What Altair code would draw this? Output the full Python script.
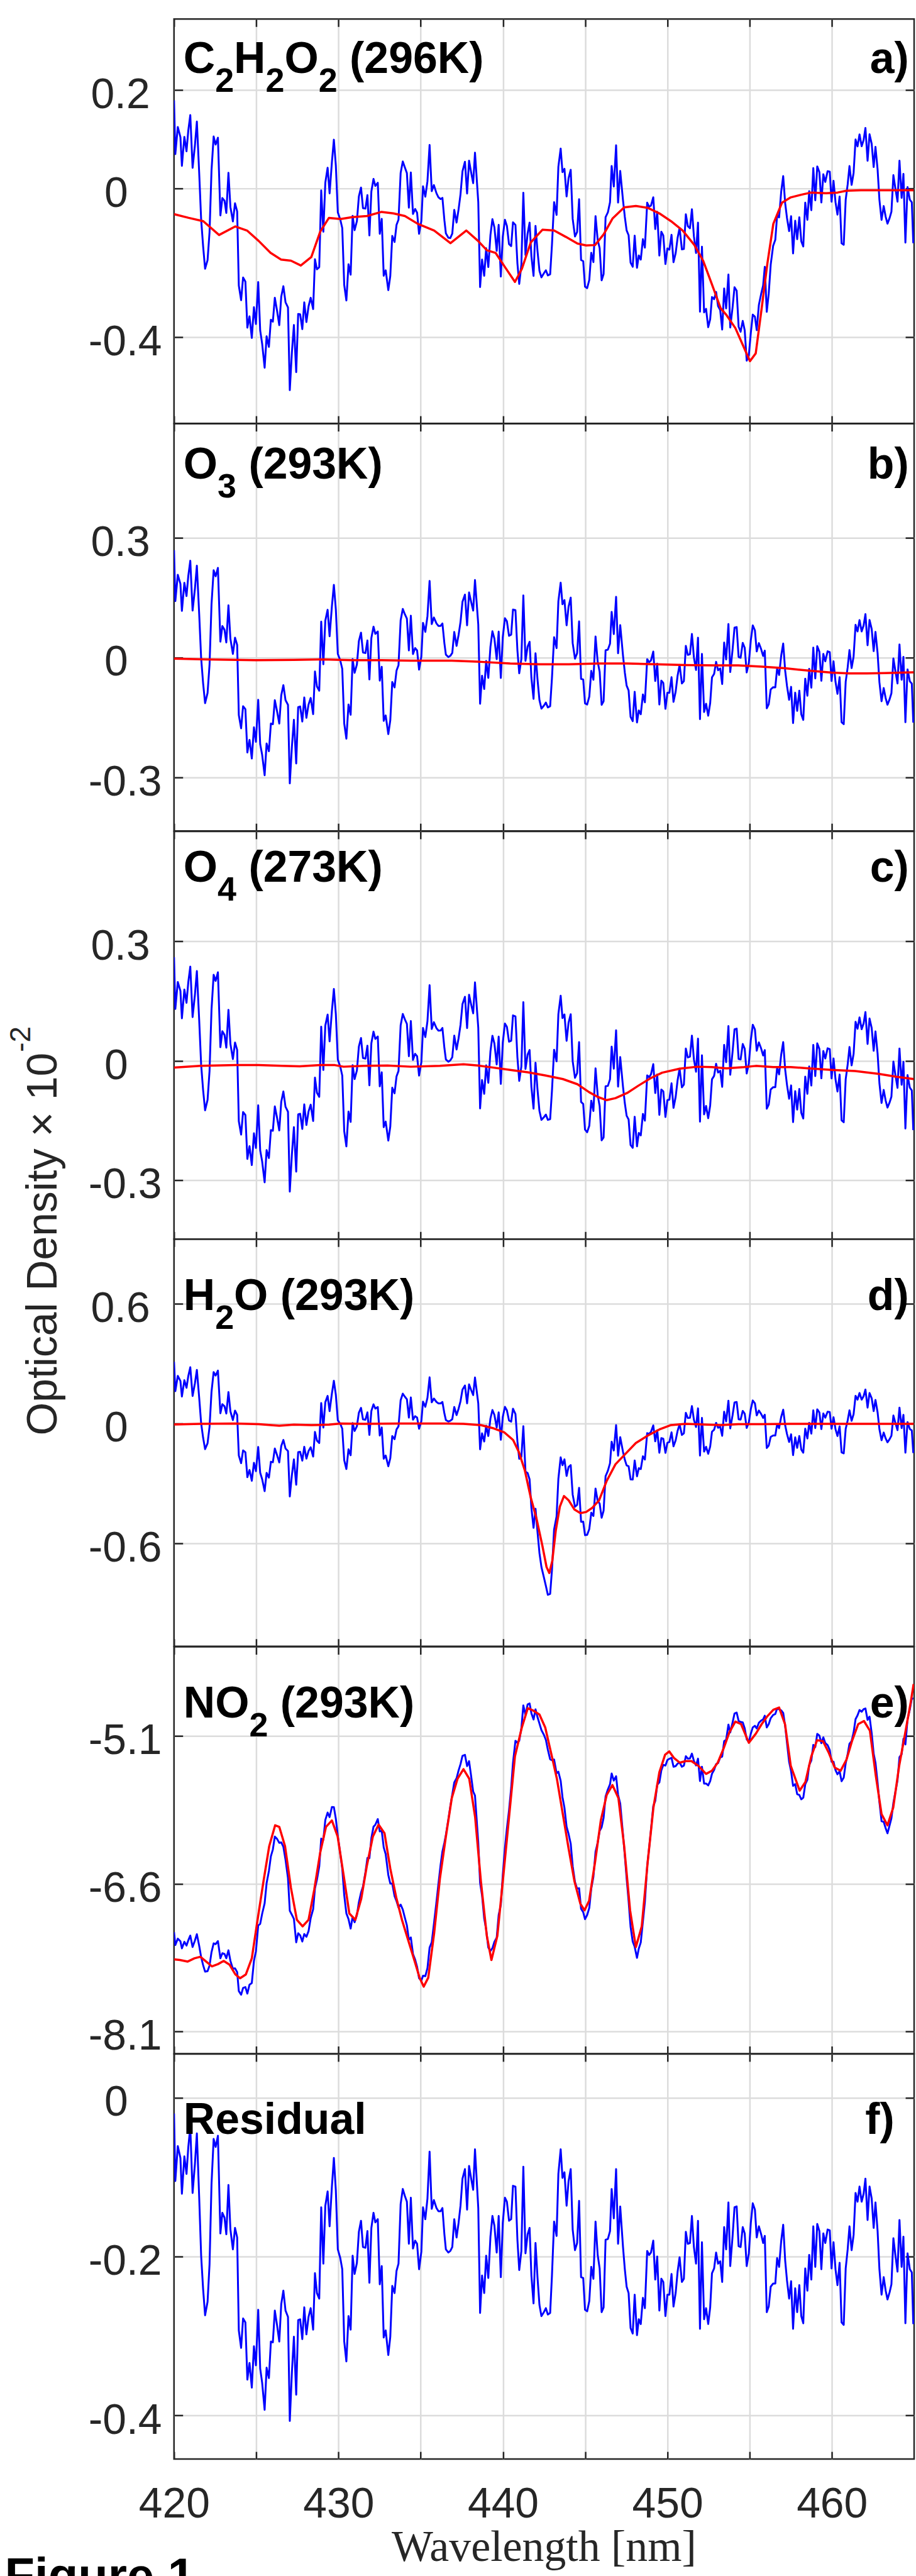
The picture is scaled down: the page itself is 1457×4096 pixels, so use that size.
import altair as alt
import numpy as np
import pandas as pd

# ---------------- data ----------------
WAVE_TICKS = [420, 425, 430, 435, 440, 445, 450, 455, 460]

# residual (panel f), wavelength [nm], optical density x 1e-2
RESIDUAL = [
(420.00,-0.020),(420.08,-0.105),(420.23,-0.061),(420.39,-0.076),(420.48,-0.121),(420.63,-0.074),(420.76,-0.096),(420.87,-0.062),(420.99,-0.037),(421.13,-0.120),
(421.27,-0.084),(421.39,-0.045),(421.53,-0.125),(421.65,-0.199),(421.77,-0.241),(421.89,-0.274),(422.04,-0.257),(422.16,-0.210),(422.28,-0.109),(422.41,-0.052),
(422.53,-0.062),(422.67,-0.048),(422.82,-0.171),(422.94,-0.145),(423.07,-0.151),(423.18,-0.172),(423.31,-0.110),(423.43,-0.166),(423.58,-0.191),(423.71,-0.164),
(423.84,-0.176),(423.94,-0.293),(424.08,-0.315),(424.20,-0.278),(424.34,-0.283),(424.46,-0.355),(424.59,-0.334),(424.73,-0.365),(424.86,-0.313),(424.98,-0.337),
(425.12,-0.267),(425.24,-0.341),(425.36,-0.359),(425.51,-0.393),(425.63,-0.340),(425.77,-0.353),(425.89,-0.307),(426.01,-0.308),(426.13,-0.268),(426.27,-0.287),
(426.40,-0.307),(426.52,-0.260),(426.65,-0.243),(426.78,-0.268),(426.93,-0.276),(427.04,-0.407),(427.17,-0.345),(427.29,-0.301),(427.43,-0.374),(427.55,-0.280),
(427.67,-0.279),(427.80,-0.304),(427.92,-0.264),(428.05,-0.298),(428.18,-0.276),(428.31,-0.265),(428.46,-0.292),(428.57,-0.221),(428.69,-0.246),(428.83,-0.253),
(428.95,-0.138),(429.08,-0.209),(429.20,-0.136),(429.34,-0.118),
(429.46,-0.162),(429.60,-0.112),(429.72,-0.076),(429.84,-0.117),(429.96,-0.191),(430.11,-0.202),(430.23,-0.216),(430.35,-0.307),(430.48,-0.332),(430.61,-0.275),
(430.74,-0.292),(430.86,-0.199),(430.98,-0.222),(431.12,-0.208),(431.24,-0.169),(431.37,-0.155),(431.49,-0.188),(431.64,-0.189),(431.76,-0.168),(431.88,-0.233),
(432.00,-0.164),(432.13,-0.145),(432.24,-0.157),(432.39,-0.153),(432.51,-0.235),(432.63,-0.212),(432.75,-0.302),(432.87,-0.293),(433.03,-0.324),(433.15,-0.301),
(433.27,-0.237),(433.41,-0.246),(433.53,-0.218),(433.65,-0.209),(433.78,-0.134),(433.91,-0.115),(434.04,-0.124),(434.16,-0.131),(434.28,-0.184),(434.40,-0.126),
(434.53,-0.190),(434.66,-0.180),(434.78,-0.184),(434.90,-0.216),(435.04,-0.194),(435.14,-0.138),(435.28,-0.153),(435.41,-0.127),(435.54,-0.068),(435.67,-0.140),
(435.80,-0.129),(435.96,-0.139),(436.08,-0.143),(436.21,-0.143),(436.32,-0.139),(436.44,-0.172),(436.53,-0.191),(436.68,-0.195),(436.80,-0.193),(436.92,-0.188),
(437.04,-0.153),(437.18,-0.176),(437.30,-0.158),(437.42,-0.136),(437.54,-0.102),(437.69,-0.090),(437.82,-0.141),(437.94,-0.086),(438.06,-0.101),(438.19,-0.116),
(438.30,-0.065),
(438.50,-0.139),(438.61,-0.271),(438.73,-0.224),(438.86,-0.246),(438.98,-0.199),(439.11,-0.227),(439.24,-0.175),(439.36,-0.149),(439.48,-0.161),(439.62,-0.195),
(439.74,-0.149),(439.87,-0.226),(439.99,-0.158),(440.12,-0.126),(440.24,-0.131),(440.37,-0.155),(440.50,-0.153),(440.61,-0.111),(440.76,-0.112),(440.88,-0.179),
(440.99,-0.217),(441.12,-0.193),(441.24,-0.087),(441.37,-0.196),(441.50,-0.172),(441.62,-0.164),(441.73,-0.224),(441.86,-0.259),(441.98,-0.183),(442.10,-0.226),
(442.22,-0.261),(442.34,-0.275),(442.49,-0.270),(442.61,-0.265),(442.73,-0.273),(442.87,-0.271),(442.98,-0.224),(443.11,-0.156),(443.26,-0.174),(443.37,-0.096),
(443.51,-0.065),(443.62,-0.101),(443.74,-0.094),(443.87,-0.136),(443.99,-0.105),(444.12,-0.090),(444.24,-0.166),(444.38,-0.192),(444.51,-0.183),(444.63,-0.130),
(444.75,-0.226),(444.88,-0.227),(444.99,-0.267),(445.12,-0.269),(445.25,-0.256),(445.37,-0.213),(445.50,-0.228),(445.63,-0.156),(445.76,-0.198),(445.88,-0.215),
(446.00,-0.270),(446.12,-0.264),(446.24,-0.179),(446.38,-0.178),(446.51,-0.168),(446.61,-0.115),(446.74,-0.152),(446.88,-0.090),(447.00,-0.184),(447.13,-0.137),
(447.30,-0.188),(447.41,-0.216),(447.52,-0.238),(447.64,-0.246),(447.76,-0.290),(447.89,-0.297),(448.01,-0.248),(448.15,-0.299),(448.26,-0.279),(448.38,-0.285),
(448.51,-0.252),(448.63,-0.265),(448.77,-0.193),(448.89,-0.198),(449.00,-0.195),(449.14,-0.180),(449.26,-0.229),(449.38,-0.200),(449.51,-0.268),(449.63,-0.228),
(449.75,-0.232),(449.88,-0.275),(450.00,-0.248),(450.12,-0.248),(450.25,-0.222),(450.37,-0.263),(450.50,-0.246),(450.62,-0.219),(450.74,-0.201),(450.88,-0.232),
(451.00,-0.228),(451.12,-0.169),(451.24,-0.184),(451.37,-0.183),(451.49,-0.149),(451.61,-0.188),(451.74,-0.209),(451.86,-0.155),(451.98,-0.291),(452.10,-0.182),
(452.23,-0.279),(452.35,-0.265),(452.48,-0.285),(452.60,-0.264),(452.71,-0.221),(452.84,-0.215),(452.96,-0.195),(453.08,-0.209),(453.21,-0.206),(453.33,-0.232),
(453.45,-0.163),(453.57,-0.191),(453.71,-0.132),(453.82,-0.212),(453.96,-0.175),(454.08,-0.138),(454.21,-0.137),(454.33,-0.187),(454.45,-0.188),(454.58,-0.163),
(454.70,-0.171),(454.82,-0.212),(454.95,-0.196),(455.07,-0.158),(455.19,-0.133),(455.32,-0.141),(455.43,-0.176),(455.56,-0.162),(455.70,-0.172),(455.82,-0.183),
(455.92,-0.174),(456.04,-0.270),(456.16,-0.263),(456.28,-0.238),
(456.43,-0.234),(456.56,-0.234),(456.67,-0.202),(456.79,-0.213),(456.92,-0.180),(457.04,-0.160),(457.16,-0.205),(457.27,-0.230),(457.40,-0.253),(457.52,-0.231),
(457.64,-0.291),(457.77,-0.240),(457.89,-0.270),(458.02,-0.236),(458.14,-0.275),(458.26,-0.284),(458.38,-0.215),(458.51,-0.243),(458.62,-0.198),(458.75,-0.229),
(458.87,-0.162),(458.99,-0.213),(459.11,-0.159),(459.24,-0.168),(459.36,-0.216),(459.48,-0.171),(459.60,-0.183),(459.74,-0.166),(459.87,-0.167),(459.98,-0.215),
(460.10,-0.182),(460.22,-0.216),(460.34,-0.236),(460.47,-0.208),(460.59,-0.283),(460.72,-0.286),(460.84,-0.215),(460.96,-0.191),(461.07,-0.162),(461.20,-0.192),
(461.32,-0.173),(461.44,-0.120),(461.56,-0.131),(461.68,-0.112),(461.81,-0.131),(461.93,-0.121),(462.04,-0.102),(462.17,-0.154),(462.29,-0.112),(462.42,-0.127),
(462.54,-0.164),(462.65,-0.132),(462.78,-0.168),(462.89,-0.216),(463.02,-0.248),(463.15,-0.226),(463.27,-0.243),(463.38,-0.254),(463.51,-0.245),(463.62,-0.235),
(463.74,-0.177),(463.86,-0.198),(463.99,-0.219),(464.11,-0.154),(464.24,-0.213),(464.35,-0.175),(464.47,-0.284),(464.60,-0.196),(464.74,-0.216),(464.86,-0.220),
(464.95,-0.285),
]

# fitted cross sections (red curves)
FIT_A = [
(420.00,-0.069),(420.89,-0.079),(421.78,-0.088),(422.74,-0.125),(423.73,-0.102),(424.44,-0.113),(425.15,-0.141),(425.87,-0.173),(426.51,-0.191),(427.11,-0.194),
(427.71,-0.207),(428.35,-0.184),(428.89,-0.116),(429.42,-0.079),(430.13,-0.082),(430.84,-0.077),(431.73,-0.074),(432.62,-0.063),(433.33,-0.067),(434.04,-0.074),
(434.82,-0.095),(435.82,-0.113),(436.81,-0.147),(437.77,-0.113),(438.49,-0.141),(439.02,-0.166),(439.55,-0.173),(440.09,-0.209),(440.73,-0.251),(441.15,-0.216),
(441.69,-0.145),(442.40,-0.111),(443.11,-0.113),(443.82,-0.130),(444.53,-0.148),(445.06,-0.153),(445.60,-0.152),(446.13,-0.123),(446.66,-0.081),(447.37,-0.051),
(448.08,-0.047),(448.80,-0.052),(449.51,-0.067),(450.22,-0.088),(450.93,-0.113),(451.64,-0.152),(452.17,-0.194),(452.71,-0.258),(453.24,-0.322),(453.59,-0.340),
(454.13,-0.375),(454.66,-0.428),(455.02,-0.464),(455.37,-0.443),(455.73,-0.322),(456.08,-0.201),(456.44,-0.095),(456.97,-0.038),(457.50,-0.024),(458.22,-0.016),
(458.75,-0.011),(459.64,-0.013),(460.35,-0.011),(460.89,-0.006),(461.77,-0.005),(462.84,-0.005),(463.90,-0.005),(464.97,-0.005),
]
FIT_B = [
(420.00,-0.003),(421.96,-0.005),(424.98,-0.007),(427.29,-0.006),(429.07,-0.005),(430.84,-0.007),(432.62,-0.007),(434.40,-0.008),(436.89,-0.008),(438.66,-0.011),
(440.44,-0.015),(442.22,-0.017),(444.00,-0.017),(445.77,-0.015),(447.55,-0.015),(449.33,-0.017),(451.11,-0.019),(452.88,-0.020),(454.31,-0.020),(455.73,-0.023),
(457.15,-0.027),(458.57,-0.033),(459.99,-0.038),(461.06,-0.040),(462.13,-0.040),(463.19,-0.039),(464.97,-0.037),
]
FIT_C = [
(420.00,-0.017),(421.60,-0.013),(423.73,-0.011),(425.15,-0.011),(426.58,-0.013),(427.64,-0.014),(428.89,-0.011),(429.78,-0.011),(430.31,-0.015),(431.55,-0.013),
(432.98,-0.012),(434.40,-0.015),(436.17,-0.013),(437.60,-0.009),(438.49,-0.012),(439.37,-0.017),(440.44,-0.023),(441.51,-0.029),(442.57,-0.037),(443.64,-0.046),
(444.53,-0.059),(445.24,-0.079),(445.77,-0.091),(446.31,-0.099),(446.84,-0.094),(447.55,-0.081),(448.26,-0.062),(448.97,-0.044),(449.68,-0.030),(450.75,-0.020),
(451.82,-0.015),(452.71,-0.016),(453.59,-0.019),(454.66,-0.016),(455.37,-0.013),(456.44,-0.016),(457.50,-0.016),(458.57,-0.019),(459.99,-0.023),(461.41,-0.026),
(462.84,-0.033),(463.90,-0.040),(464.97,-0.046),
]
FIT_D = [
(420.00,-0.005),(421.60,-0.002),(423.73,0.000),(425.15,-0.003),(426.40,-0.011),(427.29,-0.006),(428.35,-0.008),(429.42,-0.006),(430.13,0.000),(431.55,-0.002),
(433.69,0.000),(436.53,0.000),(437.60,-0.002),(438.66,-0.008),(439.37,-0.023),(440.09,-0.045),(440.62,-0.083),(440.97,-0.144),(441.33,-0.235),(441.69,-0.371),
(442.04,-0.477),(442.40,-0.614),(442.65,-0.720),(442.82,-0.750),(443.00,-0.689),(443.21,-0.538),(443.46,-0.417),(443.71,-0.364),(444.00,-0.386),(444.35,-0.432),
(444.71,-0.450),(445.06,-0.444),(445.42,-0.424),(445.84,-0.386),(446.31,-0.288),(446.84,-0.205),(447.37,-0.159),(448.08,-0.098),(448.80,-0.061),(449.51,-0.030),
(450.22,-0.008),(451.11,-0.002),(452.17,-0.005),(453.24,-0.008),(454.31,-0.003),(455.73,-0.003),(457.50,-0.002),(459.28,-0.002),(461.06,-0.002),(462.84,-0.002),
(464.97,-0.002),
]
FIT_E = [
(420.00,-7.367),(420.36,-7.374),(420.82,-7.390),(421.24,-7.357),(421.60,-7.341),(421.96,-7.390),(422.31,-7.439),(422.67,-7.416),(423.02,-7.383),(423.38,-7.422),
(423.73,-7.520),(424.02,-7.559),(424.37,-7.520),(424.73,-7.357),(425.08,-6.966),(425.44,-6.576),(425.79,-6.217),(426.15,-6.006),(426.40,-6.022),(426.75,-6.217),
(427.11,-6.641),(427.47,-6.966),(427.82,-7.032),(428.18,-6.966),(428.53,-6.657),(428.89,-6.282),(429.24,-6.022),(429.60,-5.957),(429.95,-6.120),(430.31,-6.510),
(430.66,-6.901),(431.02,-6.966),(431.38,-6.755),(431.73,-6.413),(432.09,-6.120),(432.44,-5.999),(432.80,-6.087),(433.15,-6.445),(433.51,-6.738),(433.86,-6.966),
(434.22,-7.162),(434.58,-7.357),(434.93,-7.553),(435.18,-7.644),(435.46,-7.553),(435.82,-7.097),(436.17,-6.543),(436.53,-6.120),(436.89,-5.729),(437.24,-5.533),
(437.60,-5.436),(437.95,-5.533),(438.31,-5.924),(438.66,-6.576),(439.02,-7.129),(439.30,-7.374),(439.66,-7.129),(440.01,-6.543),(440.37,-5.924),(440.73,-5.305),
(441.15,-5.012),(441.51,-4.817),(441.86,-4.843),(442.22,-4.882),(442.57,-5.012),(442.93,-5.273),(443.28,-5.533),(443.64,-5.892),(444.00,-6.250),(444.35,-6.576),
(444.71,-6.804),(444.96,-6.869),(445.24,-6.771),(445.60,-6.380),(445.95,-5.957),(446.31,-5.696),(446.66,-5.598),(447.02,-5.729),(447.37,-6.217),(447.73,-6.869),
(448.08,-7.243),(448.44,-7.032),(448.80,-6.380),(449.15,-5.826),(449.51,-5.468),(449.86,-5.289),(450.11,-5.256),(450.39,-5.321),(450.75,-5.370),(451.11,-5.354),
(451.46,-5.354),(451.89,-5.403),(452.35,-5.484),(452.71,-5.452),(453.06,-5.370),(453.42,-5.224),(453.77,-5.061),(454.13,-4.953),(454.48,-4.979),(454.95,-5.168),
(455.37,-5.077),(455.73,-4.979),(456.08,-4.898),(456.44,-4.833),(456.79,-4.810),(457.15,-4.979),(457.50,-5.403),(458.04,-5.654),(458.39,-5.566),(458.75,-5.305),
(459.10,-5.142),(459.46,-5.152),(459.82,-5.273),(460.17,-5.419),(460.53,-5.452),(460.89,-5.338),(461.24,-5.142),(461.60,-4.979),(461.95,-4.947),(462.31,-5.045),
(462.67,-5.501),(463.02,-5.892),(463.38,-6.006),(463.73,-5.826),(464.09,-5.403),(464.45,-5.077),(464.80,-4.751),(464.97,-4.572),
]

# measured blue = fit + gain * (residual - zero level), per panel
RESID_ZERO = -0.201

PANELS = [
    dict(key="a", fit=FIT_A, gain=1.69, domain=[-0.631, 0.455], ticks=[0.265, 0.0, -0.4], labels=["0.2", "0", "-0.4"],
         name=[("C", 0), ("2", 1), ("H", 0), ("2", 1), ("O", 0), ("2", 1), (" (296K)", 0)], tag="a)"),
    dict(key="b", fit=FIT_B, gain=1.50, domain=[-0.434, 0.585], ticks=[0.3, 0.0, -0.3], labels=["0.3", "0", "-0.3"],
         name=[("O", 0), ("3", 1), (" (293K)", 0)], tag="b)"),
    dict(key="c", fit=FIT_C, gain=1.53, domain=[-0.448, 0.576], ticks=[0.3, 0.0, -0.3], labels=["0.3", "0", "-0.3"],
         name=[("O", 0), ("4", 1), (" (273K)", 0)], tag="c)"),
    dict(key="d", fit=FIT_D, gain=1.74, domain=[-1.118, 0.925], ticks=[0.6, 0.0, -0.6], labels=["0.6", "0", "-0.6"],
         name=[("H", 0), ("2", 1), ("O (293K)", 0)], tag="d)"),
    dict(key="e", fit=FIT_E, gain=1.53, domain=[-8.325, -4.194], ticks=[-5.1, -6.6, -8.1], labels=["-5.1", "-6.6", "-8.1"],
         name=[("NO", 0), ("2", 1), (" (293K)", 0)], tag="e)"),
    dict(key="f", fit=None, gain=None, domain=[-0.455, 0.055], ticks=[0.0, -0.2, -0.4], labels=["0", "-0.2", "-0.4"],
         name=[("Residual", 0)], tag="f)"),
]

# ---------------- styling / layout ----------------
W = 1180.3
HEIGHTS = {"a": 644.5, "b": 649.2, "c": 650.0, "d": 649.2, "e": 648.6, "f": 645.9}
NAME_BASE = {"a": 85.5, "b": 87.6, "c": 80.0, "d": 113.5, "e": 113.0, "f": 127.0}
TAG_X = {"a": 1172, "b": 1172, "c": 1172, "d": 1172, "e": 1172, "f": 1149}
INK = "#262626"
FONT = "Liberation Sans"
NAME_SIZE, SUB_SIZE, SUB_DROP = 70, 54, 30
TICK_FONT = 68

BOLD_W = {" ": .278, "(": .333, ")": .333, "C": .722, "H": .722, "K": .722, "N": .722, "O": .778, "R": .722,
          "e": .556, "s": .556, "i": .278, "d": .611, "u": .611, "a": .556, "l": .278}
REG_W = {"O": .778, "p": .556, "t": .278, "i": .222, "c": .5, "a": .556, "l": .222, " ": .278, "D": .722,
         "e": .556, "n": .556, "s": .5, "y": .5, "\u00d7": .584, "-": .333}


def tw(s, table, size):
    return sum(table.get(ch, 0.556) for ch in s) * size


one = pd.DataFrame({"k": [0]})


def txt(s, x, y, size, weight="normal", font=FONT, align="left", angle=None, dx=None, dy=None, color="black"):
    kw = dict(text=s, font=font, fontSize=size, fontWeight=weight, align=align, baseline="alphabetic", color=color)
    if angle is not None:
        kw["angle"] = angle
    if dx is not None:
        kw["dx"] = dx
    if dy is not None:
        kw["dy"] = dy
    return alt.Chart(one).mark_text(**kw).encode(x=alt.value(x), y=alt.value(y))


def name_layers(pieces, base):
    out, x = [], 15.0
    for s, sub in pieces:
        size = SUB_SIZE if sub else NAME_SIZE
        if s.startswith(" "):
            x += tw(" ", BOLD_W, size)
            s = s.lstrip()
        out.append(txt(s, x, base + (SUB_DROP if sub else 0), size, "bold"))
        x += tw(s, BOLD_W, size)
    return out


def label_expr(vals, labs):
    e = "''"
    for v, l in zip(vals, labs):
        e = f"abs(datum.value - ({v})) < 1e-6 ? '{l}' : " + e
    return e


def pad_for(label):
    return 19.8 if len(label) >= 4 else (38.7 if len(label) == 3 else 73.8)


rw = np.array([w for w, _ in RESIDUAL])
rv = np.array([v for _, v in RESIDUAL])


def panel(p):
    key = p["key"]
    H = HEIGHTS[key]
    last = key == "f"
    if p["fit"] is None:
        od = rv
        fit_df = None
    else:
        fw = np.array([w for w, _ in p["fit"]])
        fv = np.array([v for _, v in p["fit"]])
        od = np.interp(rw, fw, fv) + p["gain"] * (rv - RESID_ZERO)
        fit_df = pd.DataFrame({"wl": fw, "od": fv})
    blue_df = pd.DataFrame({"wl": rw, "od": od})

    xs = alt.Scale(domain=[420, 465], nice=False, zero=False)
    ys = alt.Scale(domain=p["domain"], nice=False, zero=False)
    pad_cond = {"condition": [{"test": f"abs(datum.value - ({v})) < 1e-6", "value": pad_for(l)}
                              for v, l in zip(p["ticks"], p["labels"])],
                "value": 38.7}
    x_bottom = alt.Axis(orient="bottom", values=WAVE_TICKS, offset=-12, tickSize=12, grid=True,
                        gridOpacity={"condition": {"test": "datum.value <= 420", "value": 0}, "value": 1},
                        labels=last, labelExpr="datum.value % 10 === 0 ? toString(datum.value) : ''",
                        labelPadding=39, title=None)
    y_left = alt.Axis(orient="left", values=p["ticks"], offset=-14, tickSize=14, grid=True,
                      labelExpr=label_expr(p["ticks"], p["labels"]), labelPadding=pad_cond,
                      labelAlign="right", labelBaseline="alphabetic", labelOffset=28.5, title=None)
    x_top = alt.Axis(orient="top", values=WAVE_TICKS, offset=-12, tickSize=12, grid=False, labels=False, title=None)
    y_right = alt.Axis(orient="right", values=p["ticks"], offset=-14, tickSize=14, grid=False, labels=False, title=None)

    blue = alt.Chart(blue_df).mark_line(color="#0000ff", strokeWidth=3, clip=True, strokeJoin="round").encode(
        x=alt.X("wl:Q", scale=xs, axis=x_bottom), y=alt.Y("od:Q", scale=ys, axis=y_left))
    if fit_df is not None:
        second = alt.Chart(fit_df).mark_line(color="#ff0000", strokeWidth=3.5, clip=True, strokeJoin="round")
    else:
        second = alt.Chart(blue_df).mark_line(opacity=0, clip=True)
    second = second.encode(x=alt.X("wl:Q", scale=xs, axis=x_top), y=alt.Y("od:Q", scale=ys, axis=y_right))

    layers = [blue, second]
    layers += name_layers(p["name"], NAME_BASE[key])
    layers.append(txt(p["tag"], TAG_X[key], NAME_BASE[key], NAME_SIZE, "bold", align="right"))
    if key == "d":
        main = "Optical Density \u00d7 10"
        layers.append(txt(main, -187.7, 313, 68, angle=270, color=INK))
        layers.append(txt("-2", -187.7, 313, 46, angle=270, dx=tw(main, REG_W, 68) + 1, dy=-42, color=INK))
    if last:
        layers.append(txt("Wavelength [nm]", W / 2, H + 162.3, 70, font="Liberation Serif", align="center", color=INK))
        layers.append(txt("Figure 1", -269.9, H + 212.5, 78, "bold"))
    return alt.layer(*layers).resolve_axis(x="independent", y="independent").properties(width=W, height=H)


chart = alt.vconcat(*[panel(p) for p in PANELS], spacing=0, bounds="flush").properties(
    padding={"left": 5.5, "top": 22, "right": 0, "bottom": 0}
).configure_view(stroke=INK, strokeWidth=2.5).configure_axis(
    labelFont=FONT, labelFontSize=TICK_FONT, labelColor=INK, tickColor=INK, tickWidth=2.5,
    gridColor="#dcdcdc", gridWidth=2.5, domain=False, labelFlush=False, labelOverlap=False, labelBound=False
)

chart.save("out.html", embed_options={"renderer": "svg", "actions": False})
